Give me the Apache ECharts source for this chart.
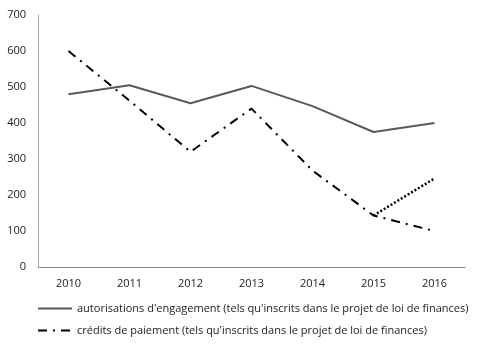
<!DOCTYPE html>
<html>
<head>
<meta charset="utf-8">
<script src="https://cdn.jsdelivr.net/npm/echarts@6/dist/echarts.min.js"></script>
<style>
html, body { margin: 0; padding: 0; background: #fff; }
#chart { width: 480px; height: 350px; }
</style>
</head>
<body>
<div id="chart"></div>
<script>
var years = ['2010', '2011', '2012', '2013', '2014', '2015', '2016']
var engagements = [480, 505, 455, 503, 447, 375, 400]
var paiements = [600, 462, 320, 440, 268, 143, 100]
var paiementsCorrige = [null, null, null, null, null, 143, 246]

var nameAE = "autorisations d'engagement (tels qu'inscrits dans le projet de loi de finances)"
var nameCP = "crédits de paiement (tels qu'inscrits dans le projet de loi de finances)"

var myChart = echarts.init(document.getElementById('chart'))
var font = 'Open Sans'
option = {
    animation: false,
    textStyle: { fontFamily: font },
    grid: {
        left: 38,
        right: 15,
        top: 15,
        bottom: 83
    },
    legend: {
        orient: 'vertical',
        left: 32,
        top: 298,
        itemWidth: 34,
        itemHeight: 10,
        itemGap: 11,
        itemStyle: { opacity: 0 },
        textStyle: { fontSize: 11, color: '#222', fontFamily: font },
        data: [nameAE, nameCP]
    },
    xAxis: {
        type: 'category',
        data: years,
        axisLine: { lineStyle: { color: '#888', width: 1 } },
        axisTick: { show: false },
        axisLabel: { color: '#222', fontSize: 11, margin: 11 }
    },
    yAxis: {
        type: 'value',
        min: 0,
        max: 700,
        interval: 100,
        axisLine: { show: true, lineStyle: { color: '#aaa', width: 1 } },
        axisTick: { show: false },
        splitLine: { show: false },
        axisLabel: { color: '#222', fontSize: 11, margin: 12 }
    },
    series: [
        {
            name: nameAE,
            type: 'line',
            data: engagements,
            symbol: 'none',
            lineStyle: { color: '#595959', width: 2 },
            itemStyle: { color: '#595959' }
        },
        {
            name: nameCP,
            type: 'line',
            data: paiements,
            symbol: 'none',
            lineStyle: { color: '#000', width: 2, type: [9, 6, 2, 6] },
            itemStyle: { color: '#000' }
        },
        {
            name: 'corrige',
            type: 'line',
            data: paiementsCorrige,
            symbol: 'none',
            lineStyle: { color: '#000', width: 2.5, type: [2, 2] },
            itemStyle: { color: '#000' }
        }
    ]
};
myChart.setOption(option);
</script>
</body>
</html>
